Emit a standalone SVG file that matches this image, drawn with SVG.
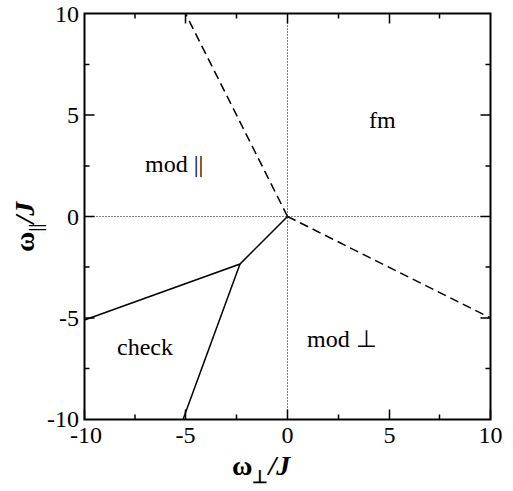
<svg xmlns="http://www.w3.org/2000/svg" width="513" height="491" viewBox="0 0 513 491">
<style>
.tl{font-size:24px}
.lab{font-size:24px}
.frame{fill:none;stroke:#000;stroke-width:2}
.tick{stroke:#000;stroke-width:1.5}
.dot{stroke:#000;stroke-width:1;stroke-dasharray:1,2}
.dash{stroke:#000;stroke-width:1.5;stroke-dasharray:9,5;fill:none}
.solid{stroke:#000;stroke-width:1.5;fill:none}
</style>
<rect width="513" height="491" fill="#fff"/>
<g id="axes" font-family="Liberation Serif, Times New Roman, serif" fill="#000">
<line class="dot" x1="287.5" y1="13.5" x2="287.5" y2="419.5"/>
<line class="dot" x1="84.5" y1="216.5" x2="490.5" y2="216.5"/>
<rect class="frame" x="84.5" y="13.5" width="406" height="406"/>
<g class="tick">
<path d="M84.5 419.5v-10M185.5 419.5v-10M287.5 419.5v-10M389.5 419.5v-10M490.5 419.5v-10M135 419.5v-5M236.5 419.5v-5M338.5 419.5v-5M439.5 419.5v-5"/>
<path d="M185.5 13.5v10M287.5 13.5v10M389.5 13.5v10M135 13.5v5M236.5 13.5v5M338.5 13.5v5M439.5 13.5v5"/>
<path d="M84.5 115h10M84.5 216.5h10M84.5 318h10M84.5 64.5h5M84.5 166h5M84.5 267h5M84.5 368.5h5"/>
<path d="M490.5 115h-10M490.5 216.5h-10M490.5 318h-10M490.5 64.5h-5M490.5 166h-5M490.5 267h-5M490.5 368.5h-5"/>
</g>
<g class="tl" text-anchor="middle">
<text x="86" y="443">-10</text>
<text x="185.5" y="443">-5</text>
<text x="287.5" y="443">0</text>
<text x="389.5" y="443">5</text>
<text x="490.5" y="443">10</text>
</g>
<g class="tl" text-anchor="end">
<text x="79" y="22">10</text>
<text x="79" y="123">5</text>
<text x="79" y="225">0</text>
<text x="79" y="326">-5</text>
<text x="79" y="427">-10</text>
</g>
<text x="232" y="475" font-size="28" font-weight="bold">ω<tspan font-size="18" dy="8">⊥</tspan><tspan dy="-8" font-style="italic">/J</tspan></text>
<text transform="translate(34,252) rotate(-90)" font-size="28" font-weight="bold">ω<tspan font-size="18" dy="8">||</tspan><tspan dy="-8" font-style="italic">/J</tspan></text>
</g>
<g id="connectors">
<line class="dash" x1="287.5" y1="216.5" x2="185.5" y2="13.5"/>
<line class="dash" x1="287.5" y1="216.5" x2="490.5" y2="318"/>
<polyline class="solid" points="287.5,216.5 240,264 84.5,320"/>
<line class="solid" x1="240" y1="264" x2="183" y2="419.5"/>
</g>
<g id="fm" font-family="Liberation Serif, serif"><text class="lab" x="369" y="128">fm</text></g>
<g id="mod-par" font-family="Liberation Serif, serif"><text class="lab" x="145" y="172">mod ||</text></g>
<g id="check" font-family="Liberation Serif, serif"><text class="lab" x="117" y="355">check</text></g>
<g id="mod-perp" font-family="Liberation Serif, serif"><text class="lab" x="307" y="347">mod ⊥</text></g>
</svg>
